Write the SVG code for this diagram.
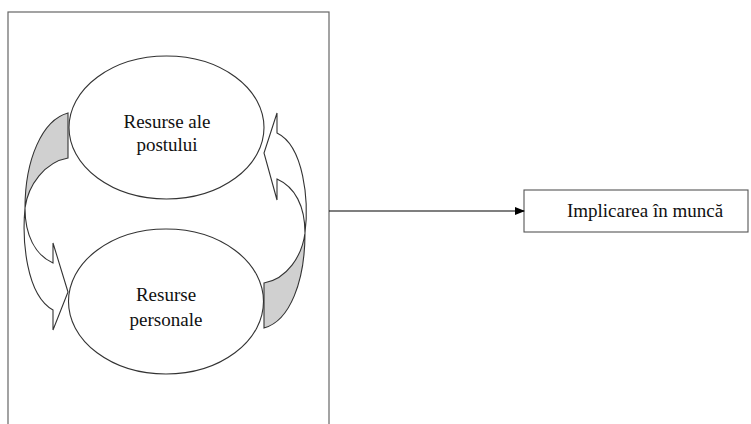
<svg xmlns="http://www.w3.org/2000/svg" width="751" height="424" viewBox="0 0 751 424">
<style>
.frame{fill:none;stroke:#666;stroke-width:1.2}
.ell{fill:#fff;stroke:#333;stroke-width:1.1}
.body{fill:#fff;stroke:#333;stroke-width:1.1;stroke-linejoin:miter}
.back{fill:#d0d0d0;stroke:#333;stroke-width:1.1}
.box{fill:#fff;stroke:#555;stroke-width:1.1}
.lbl{font-family:"Liberation Serif","Times New Roman",serif;font-size:19px;fill:#111;text-anchor:middle}
.conn{stroke:#000;stroke-width:1.2;fill:none}
</style>
<defs>
<marker id="ah" markerWidth="10" markerHeight="8" refX="9" refY="4" orient="auto" markerUnits="userSpaceOnUse">
<path d="M0,0 L10,4 L0,8 Z" fill="#000"/>
</marker>
</defs>
<rect id="frame" class="frame" x="8" y="12" width="321" height="430"/>
<g id="node-postului">
<ellipse class="ell" cx="166.5" cy="127.5" rx="97.5" ry="71.5"/>
<text class="lbl" x="167" y="128">Resurse ale</text>
<text class="lbl" x="167" y="151">postului</text>
</g>
<g id="node-personale">
<ellipse class="ell" cx="166" cy="301.5" rx="97.5" ry="72.5"/>
<text class="lbl" x="166" y="301">Resurse</text>
<text class="lbl" x="166" y="326">personale</text>
</g>
<g id="cycle-arrows">
<path class="back" d="M68,113 C42,120 25,160 25,208 C28,185 45,162 68,158 Z"/>
<path class="body" d="M25,208 C25,235 35,255 53,263 L53,243 L68,292 L53,330 L53,310 C26,295 22,240 25,208 Z"/>
<path class="back" d="M264,328 C290,321 305,281 305,233 C302,256 287,279 264,283 Z"/>
<path class="body" d="M305,233 C305,206 295,187 277,179 L277,200 L264,153 L277,113 L277,133 C304,146 309,201 305,233 Z"/>
</g>
<g id="node-implicarea">
<rect class="box" x="524" y="190" width="224" height="42"/>
<text class="lbl" x="645" y="217">Implicarea în muncă</text>
</g>
<g id="connectors">
<line class="conn" x1="329" y1="211" x2="524" y2="211" marker-end="url(#ah)"/>
</g>
</svg>
